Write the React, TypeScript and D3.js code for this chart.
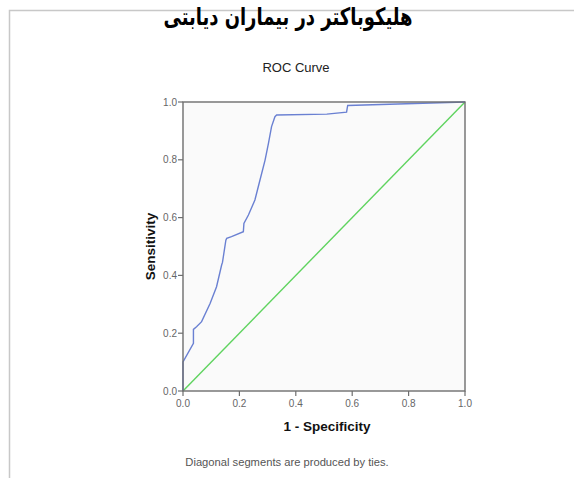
import { useMemo } from "react";
import * as d3 from "d3";

const TITLE = "هلیکوباکتر در بیماران دیابتی";
const CHART_TITLE = "ROC Curve";
const X_LABEL = "1 - Specificity";
const Y_LABEL = "Sensitivity";
const FOOTNOTE = "Diagonal segments are produced by ties.";

// ROC curve points
const fpr = [
  0, 0, 0.037, 0.037, 0.048, 0.066, 0.096, 0.119, 0.137, 0.14, 0.152, 0.155,
  0.172, 0.214, 0.216, 0.232, 0.255, 0.273, 0.291, 0.303, 0.314, 0.326, 0.332,
  0.51, 0.58, 0.584, 1,
];
const tpr = [
  0, 0.101, 0.165, 0.213, 0.222, 0.24, 0.303, 0.361, 0.436, 0.445, 0.522,
  0.528, 0.534, 0.551, 0.58, 0.609, 0.661, 0.73, 0.799, 0.857, 0.915, 0.949,
  0.955, 0.958, 0.965, 0.988, 1,
];
const diagonal = [0, 1];
const ticks = [0, 0.2, 0.4, 0.6, 0.8, 1.0];

const W = 574;
const H = 478;
const PLOT = { left: 183, right: 465, top: 102, bottom: 391 };

export default function App() {
  const x = useMemo(
    () => d3.scaleLinear().domain([0, 1]).range([PLOT.left, PLOT.right]),
    []
  );
  const y = useMemo(
    () => d3.scaleLinear().domain([0, 1]).range([PLOT.bottom, PLOT.top]),
    []
  );

  const line = d3
    .line<[number, number]>()
    .x((d) => x(d[0]))
    .y((d) => y(d[1]));

  const rocPath = line(fpr.map((f, i) => [f, tpr[i]]));
  const diagPath = line(diagonal.map((d) => [d, d]));
  const fmt = d3.format(".1f");

  return (
    <svg
      width={W}
      height={H}
      style={{ position: "absolute", left: 0, top: 0 }}
      fontFamily="'Liberation Sans', Arial, sans-serif"
    >
      <rect width={W} height={H} fill="#fff" />
      {/* outer frame */}
      <path d={`M9.5,${H} V10.5 H${W}`} fill="none" stroke="#c8c8c8" strokeWidth={1.5} />

      <text
        x={288}
        y={25}
        textAnchor="middle"
        fontSize={24}
        fontWeight="bold"
        fontFamily="'DejaVu Sans', 'Liberation Sans', sans-serif"
        direction="rtl"
        textLength={249}
        lengthAdjust="spacingAndGlyphs"
        fill="#000"
      >
        {TITLE}
      </text>

      <text x={296} y={72} textAnchor="middle" fontSize={13} fill="#222">
        {CHART_TITLE}
      </text>

      {/* plot area */}
      <rect
        x={PLOT.left}
        y={PLOT.top}
        width={PLOT.right - PLOT.left}
        height={PLOT.bottom - PLOT.top}
        fill="#fafafa"
      />

      <path d={diagPath!} fill="none" stroke="#5fd35f" strokeWidth={1.4} />
      <path d={rocPath!} fill="none" stroke="#6a80d2" strokeWidth={1.4} />

      <rect
        x={PLOT.left}
        y={PLOT.top}
        width={PLOT.right - PLOT.left}
        height={PLOT.bottom - PLOT.top}
        fill="none"
        stroke="#6e6e6e"
        strokeWidth={1.4}
      />

      {/* y ticks */}
      {ticks.map((t) => (
        <g key={"y" + t}>
          <line x1={PLOT.left - 5} x2={PLOT.left} y1={y(t)} y2={y(t)} stroke="#6e6e6e" strokeWidth={1.2} />
          <text x={PLOT.left - 6} y={y(t) + 3.5} textAnchor="end" fontSize={10} fill="#666">
            {fmt(t)}
          </text>
        </g>
      ))}
      {/* x ticks */}
      {ticks.map((t) => (
        <g key={"x" + t}>
          <line x1={x(t)} x2={x(t)} y1={PLOT.bottom} y2={PLOT.bottom + 5} stroke="#6e6e6e" strokeWidth={1.2} />
          <text x={x(t)} y={PLOT.bottom + 16} textAnchor="middle" fontSize={10} fill="#666">
            {fmt(t)}
          </text>
        </g>
      ))}

      <text
        transform={`translate(155,${(PLOT.top + PLOT.bottom) / 2}) rotate(-90)`}
        textAnchor="middle"
        fontSize={13.5}
        fontWeight="bold"
        fill="#111"
      >
        {Y_LABEL}
      </text>
      <text x={(PLOT.left + PLOT.right) / 2 + 3} y={431} textAnchor="middle" fontSize={13.5} fontWeight="bold" fill="#111">
        {X_LABEL}
      </text>

      <text x={287} y={466} textAnchor="middle" fontSize={11.2} fill="#555">
        {FOOTNOTE}
      </text>
    </svg>
  );
}
